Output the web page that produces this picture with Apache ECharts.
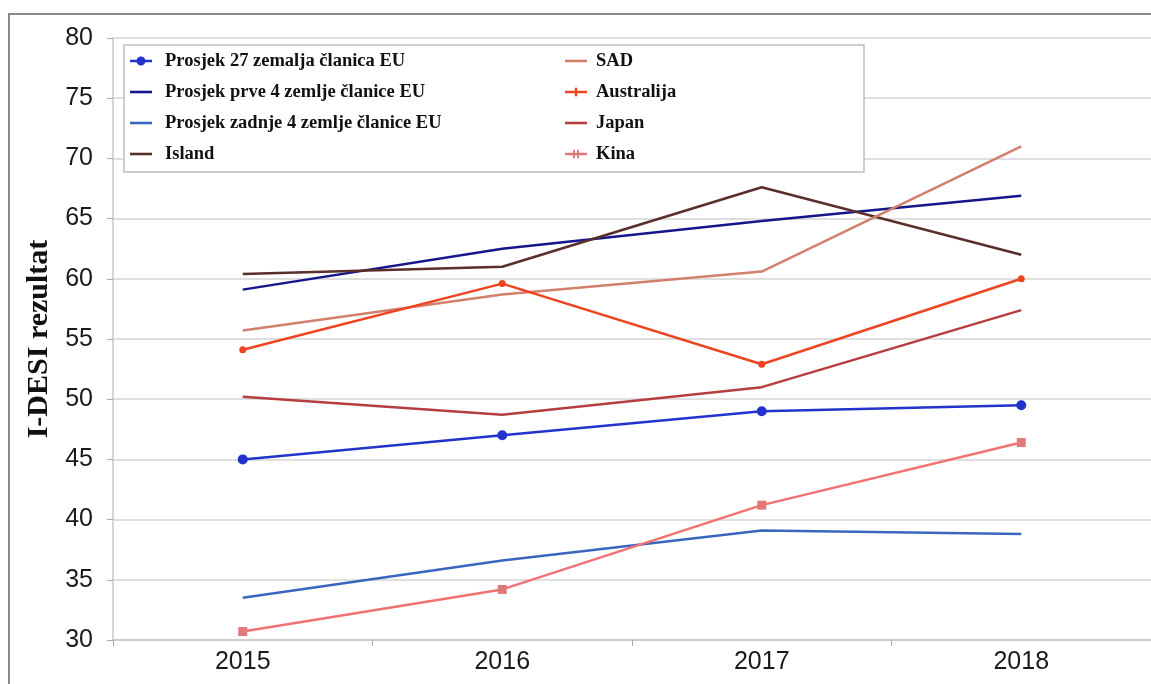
<!DOCTYPE html>
<html>
<head>
<meta charset="utf-8">
<script src="https://cdn.jsdelivr.net/npm/echarts@6/dist/echarts.min.js"></script>
<style>
html,body{margin:0;padding:0;background:#fff;}
#chart{width:1151px;height:684px;}
</style>
</head>
<body>
<div id="chart"></div>
<script>
const years = ['2015', '2016', '2017', '2018'];
const yTicks = [30, 35, 40, 45, 50, 55, 60, 65, 70, 75, 80];

const eu27 = [45.0, 47.0, 49.0, 49.5];
const eu27Name = 'Prosjek 27 zemalja članica EU';
const top4 = [59.1, 62.5, 64.8, 66.9];
const top4Name = 'Prosjek prve 4 zemlje članice EU';
const bottom4 = [33.5, 36.6, 39.1, 38.8];
const bottom4Name = 'Prosjek zadnje 4 zemlje članice EU';
const island = [60.4, 61.0, 67.6, 62.0];
const islandName = 'Island';
const sad = [55.7, 58.7, 60.6, 71.0];
const sadName = 'SAD';
const australija = [54.1, 59.6, 52.9, 60.0];
const australijaName = 'Australija';
const japan = [50.2, 48.7, 51.0, 57.4];
const japanName = 'Japan';
const kina = [30.7, 34.2, 41.2, 46.4];
const kinaName = 'Kina';
const yAxisTitle = 'I-DESI rezultat';

const chart = echarts.init(document.getElementById('chart'), null, {renderer: 'canvas'});

function line(name, data, color, symbol, symbolSize, symbolColor) {
  return {
    name: name,
    type: 'line',
    data: data,
    symbol: symbol || 'none',
    symbolSize: symbolSize || 0,
    showSymbol: !!symbol,
    lineStyle: {color: color, width: 2.5},
    itemStyle: {color: symbolColor || color},
    z: 3
  };
}

const ICON_LINE = 'path://M0,0L22,0L22,2.6L0,2.6Z';
const ICON_DOT = 'path://M0,4L7,4L7,6.6L0,6.6Z M15,4L22,4L22,6.6L15,6.6Z M6.5,5.3A4.5,4.5 0 1,1 15.5,5.3A4.5,4.5 0 1,1 6.5,5.3Z';
const ICON_PLUS = 'path://M0,3L22,3L22,5.6L0,5.6Z M9.8,0L12.2,0L12.2,8.6L9.8,8.6Z';
const ICON_X = 'path://M0,3L22,3L22,5.6L0,5.6Z M8,0L10,0L10,8.6L8,8.6Z M12,0L14,0L14,8.6L12,8.6Z';

const legendText = {
  fontFamily: '"Liberation Serif", "DejaVu Serif", serif',
  fontWeight: 'bold',
  fontSize: 18.5,
  color: '#111',
  lineHeight: 20,
  padding: [0, 0, 0, 8]
};

const option = {
  backgroundColor: '#fff',
  animation: false,
  grid: {left: 113, right: -2, top: 38, bottom: 44, containLabel: false},
  graphic: [
    {type: 'rect', shape: {x: 9, y: 14, width: 1200, height: 720}, style: {fill: 'none', stroke: '#8a8a8a', lineWidth: 2}, z: 0, silent: true},
    {type: 'rect', shape: {x: 124, y: 45, width: 740, height: 127}, style: {fill: '#fff', stroke: '#bdbdbd', lineWidth: 1.5}, z: 10, silent: true}
  ],
  legend: [
    {
      data: [
        {name: eu27Name, icon: ICON_DOT},
        {name: top4Name, icon: ICON_LINE},
        {name: bottom4Name, icon: ICON_LINE},
        {name: islandName, icon: ICON_LINE}
      ],
      orient: 'vertical', left: 130, top: 51, padding: 0, itemWidth: 22, itemHeight: 14, itemGap: 11,
      textStyle: legendText, z: 20, selectedMode: false
    },
    {
      data: [
        {name: sadName, icon: ICON_LINE},
        {name: australijaName, icon: ICON_PLUS},
        {name: japanName, icon: ICON_LINE},
        {name: kinaName, icon: ICON_X}
      ],
      orient: 'vertical', left: 565, top: 51, padding: 0, itemWidth: 22, itemHeight: 14, itemGap: 11,
      textStyle: Object.assign({}, legendText, {padding: [0, 0, 0, 4]}), z: 20, selectedMode: false
    }
  ],
  xAxis: {
    type: 'category',
    data: years,
    boundaryGap: true,
    axisLine: {lineStyle: {color: '#c8c8c8', width: 1.5}},
    axisTick: {show: true, alignWithLabel: false, length: 6, lineStyle: {color: '#aaa'}},
    axisLabel: {fontFamily: '"Liberation Sans", Arial, sans-serif', fontSize: 25, color: '#1a1a1a', margin: 10},
    splitLine: {show: false}
  },
  yAxis: {
    type: 'value',
    min: 30, max: 80, interval: 5,
    name: yAxisTitle,
    nameLocation: 'middle',
    nameRotate: 90,
    nameGap: 58,
    nameTextStyle: {fontFamily: '"Liberation Serif", "DejaVu Serif", serif', fontWeight: 'bold', fontSize: 30, color: '#111'},
    axisLine: {show: true, lineStyle: {color: '#c8c8c8', width: 1.5}},
    axisTick: {show: true, inside: false, length: 6, lineStyle: {color: '#aaa'}},
    axisLabel: {
      fontFamily: '"Liberation Sans", Arial, sans-serif', fontSize: 25, color: '#1a1a1a', margin: 20,
      formatter: function (v) { return yTicks.indexOf(v) >= 0 ? String(v) : ''; }
    },
    splitLine: {show: true, lineStyle: {color: '#d4d4d4', width: 1.5}}
  },
  series: [
    line(eu27Name, eu27, '#2233cc', 'circle', 10),
    line(top4Name, top4, '#16168c'),
    line(bottom4Name, bottom4, '#3a66c0'),
    line(islandName, island, '#5a2e2a'),
    line(sadName, sad, '#d2806e'),
    line(australijaName, australija, '#ee4422', 'circle', 7),
    line(japanName, japan, '#b63e3e'),
    line(kinaName, kina, '#f07272', 'rect', 9, '#e07a7a')
  ]
};
chart.setOption(option);
</script>
</body>
</html>
